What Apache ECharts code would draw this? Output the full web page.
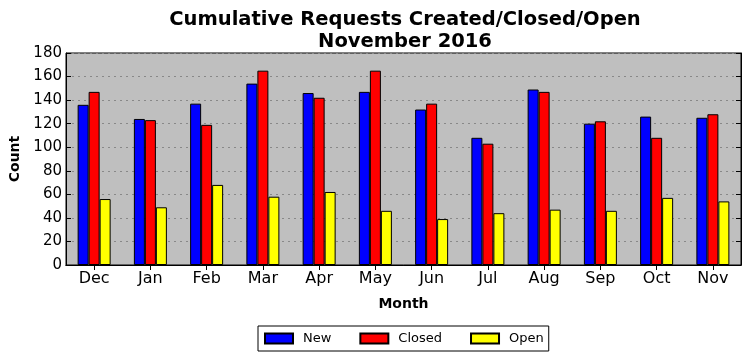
<!DOCTYPE html>
<html><head><meta charset="utf-8">
<script src="https://cdn.jsdelivr.net/npm/echarts@6/dist/echarts.min.js"></script>
<style>html,body{margin:0;padding:0;background:#fff}#c{width:751px;height:361px}</style>
</head><body><div id="c"></div>
<script>
var months = ['Dec','Jan','Feb','Mar','Apr','May','Jun','Jul','Aug','Sep','Oct','Nov'];
var newVals = [136,124,137,154,146,147,132,108,149,120,126,125];
var closedVals = [147,123,119,165,142,165,137,103,147,122,108,128];
var openVals = [56,49,68,58,62,46,39,44,47,46,57,54];
var yTicks = {min:0, max:180, interval:20};

var font = 'DejaVu Sans';
var chart = echarts.init(document.getElementById('c'));
function bar(name, data, color){
  return {name:name, type:'bar', data:data, barWidth:11, barGap:'0%',
    itemStyle:{color:color, borderColor:'#000', borderWidth:1}};
}
chart.setOption({
  animation:false,
  title:{text:'Cumulative Requests Created/Closed/Open\nNovember 2016', left:400, top:4, textAlign:'center',
    textStyle:{fontFamily:font, fontSize:19.5, fontWeight:'bold', color:'#000', lineHeight:22}},
  grid:{left:66, right:10, top:53, bottom:96, show:true, backgroundColor:'#bfbfbf', borderColor:'#000', borderWidth:1},
  legend:{left:258, top:326, data:['New','Closed','Open'], icon:'rect', itemWidth:28, itemHeight:10, itemGap:28,
    borderColor:'#000', borderWidth:1, borderRadius:0, padding:[6,5,6,6],
    textStyle:{fontFamily:font, fontSize:13, color:'#000', padding:[0,0,0,5]}},
  xAxis:[{type:'category', data:months, position:'bottom',
    name:'Month', nameLocation:'middle', nameGap:32, nameTextStyle:{fontFamily:font, fontSize:14, fontWeight:'bold', color:'#000'},
    axisLine:{lineStyle:{color:'#000'}}, axisTick:{show:true, inside:true, alignWithLabel:true, length:5, lineStyle:{color:'#000'}},
    axisLabel:{fontFamily:font, fontSize:16, color:'#000', margin:6}},
   {type:'category', data:months, position:'top',
    axisLine:{lineStyle:{color:'#000'}}, axisTick:{show:true, inside:true, alignWithLabel:true, length:5, lineStyle:{color:'#000'}},
    axisLabel:{show:false}}],
  yAxis:[{type:'value', min:yTicks.min, max:yTicks.max, interval:yTicks.interval, position:'left',
    name:'Count', nameLocation:'middle', nameGap:42, nameTextStyle:{fontFamily:font, fontSize:14, fontWeight:'bold', color:'#000'},
    axisLine:{show:true, lineStyle:{color:'#000'}}, axisTick:{show:true, inside:true, length:5, lineStyle:{color:'#000'}},
    axisLabel:{fontFamily:font, fontSize:15, color:'#000', margin:4},
    splitLine:{show:true, lineStyle:{color:'#888', type:[2,4], width:1}}},
   {type:'value', min:yTicks.min, max:yTicks.max, interval:yTicks.interval, position:'right',
    axisLine:{show:true, lineStyle:{color:'#000'}}, axisTick:{show:true, inside:true, length:5, lineStyle:{color:'#000'}},
    axisLabel:{show:false}, splitLine:{show:false}}],
  series:[bar('New', newVals, '#0000ff'), bar('Closed', closedVals, '#ff0000'), bar('Open', openVals, '#ffff00')]
});
</script></body></html>
